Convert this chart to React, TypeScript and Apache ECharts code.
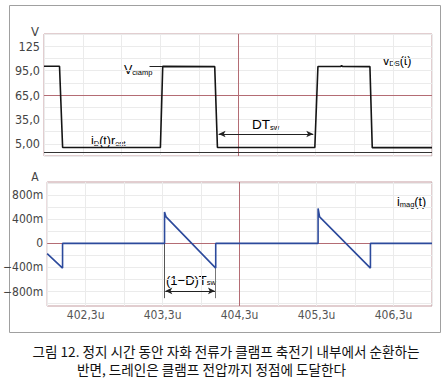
import React, { useEffect, useRef } from "react";
import * as echarts from "echarts";

// ---- data ----
const X0 = 401.8; // time offset (µs) used for the axis so gridlines fall on .3/.8
const Y0 = 5; // voltage offset so gridlines fall on 5, 20, 35 ...

const vdsTime = [401.8, 402.0, 402.04, 403.3, 403.33, 404.0, 404.035, 405.29, 405.33, 405.62, 405.635, 405.65, 406.0, 406.03, 406.8];
const vdsVolt = [100.3, 100.3, 0.4, 0.4, 100.2, 99.9, 0.4, 0.4, 100.1, 100.1, 100.9, 100.1, 99.9, 0.3, 0.3];

const imagTime = [401.8, 402.0, 402.0, 403.325, 403.325, 403.345, 403.99, 403.99, 405.32, 405.32, 405.34, 406.0, 406.0, 406.8];
const imagAmp = [-0.17, -0.41, 0, 0, 0.52, 0.44, -0.41, 0, 0, 0.58, 0.44, -0.41, 0, 0];

const xTickValues = [402.3, 403.3, 404.3, 405.3, 406.3];
const xTickLabels = ["402,3u", "403,3u", "404,3u", "405,3u", "406,3u"];
const vTickValues = [5, 35, 65, 95, 125];
const vTickLabels = ["5,00", "35,0", "65,0", "95,0", "125"];
const iTickValues = [-0.8, -0.4, 0, 0.4, 0.8];
const iTickLabels = ["−800m", "−400m", "0", "400m", "800m"];
const iGridValues = [-1.0, -0.8, -0.6, -0.4, -0.2, 0.2, 0.4, 0.6, 0.8, 1.0];

const captionLines = [
  "그림 12. 정지 시간 동안 자화 전류가 클램프 축전기 내부에서 순환하는",
  "반면, 드레인은 클램프 전압까지 정점에 도달한다",
];

const RED = "#b46c74";
const BORDER = "#c49ca0";
const GRID = "#ebebeb";
const FONT = "'Liberation Sans Narrow', 'DejaVu Sans Condensed', sans-serif";
const AFONT = "'Liberation Sans', sans-serif";

const fmt = (vals: number[], labels: string[], offset: number) => (v: number) => {
  const t = v + offset;
  const i = vals.findIndex((x) => Math.abs(x - t) < 1e-6);
  return i >= 0 ? labels[i] : "";
};

const rich = (big: number) => ({
  b: { fontSize: big, lineHeight: 15, fontFamily: AFONT, color: "#3a3a3a", verticalAlign: "bottom" as const },
  s: { fontSize: 7.5, lineHeight: 6, fontFamily: AFONT, color: "#3a3a3a", verticalAlign: "bottom" as const },
});

export default function App() {
  const ref = useRef<HTMLDivElement>(null);
  useEffect(() => {
    if (!ref.current) return;
    const chart = echarts.init(ref.current, undefined, { renderer: "svg" });

    const vdsData = vdsTime.map((t, i) => [t - X0, vdsVolt[i] - Y0]);
    const imagData = imagTime.map((t, i) => [t - X0, imagAmp[i]]);

    const xAxisCommon = {
      type: "value" as const,
      min: 0,
      max: 5,
      interval: 0.5,
      axisLine: { show: false },
      axisTick: { show: false },
      splitLine: { show: true, lineStyle: { color: GRID, width: 1 } },
    };

    const solid = (color: string, width = 1) => ({ color, width, type: "solid" as const });

    const option: any = {
      animation: false,
      grid: [
        { left: 44, top: 34, width: 388, height: 122, show: true, borderColor: BORDER, borderWidth: 1, backgroundColor: "transparent" },
        { left: 44, top: 182, width: 388, height: 124, show: true, borderColor: BORDER, borderWidth: 1, backgroundColor: "transparent" },
      ],
      xAxis: [
        { ...xAxisCommon, gridIndex: 0, axisLabel: { show: false } },
        {
          ...xAxisCommon,
          gridIndex: 1,
          axisLabel: { show: true, margin: 3, color: "#555", fontSize: 12, fontFamily: FONT, formatter: fmt(xTickValues, xTickLabels, X0) },
        },
      ],
      yAxis: [
        {
          type: "value",
          gridIndex: 0,
          min: -15,
          max: 135,
          interval: 15,
          axisLine: { show: false },
          axisTick: { show: false },
          splitLine: { show: true, lineStyle: { color: GRID, width: 1 } },
          axisLabel: { show: true, margin: 4, color: "#444", fontSize: 12.5, fontFamily: FONT, formatter: fmt(vTickValues, vTickLabels, Y0) },
        },
        {
          type: "value",
          gridIndex: 1,
          min: -1.04,
          max: 1.02,
          interval: 0.04,
          axisLine: { show: false },
          axisTick: { show: false },
          splitLine: { show: false },
          axisLabel: { show: true, hideOverlap: false, margin: 4, color: "#444", fontSize: 12, fontFamily: FONT, formatter: fmt(iTickValues, iTickLabels, 0) },
        },
      ],
      series: [
        {
          type: "line",
          xAxisIndex: 0,
          yAxisIndex: 0,
          data: vdsData,
          showSymbol: false,
          symbol: "none",
          lineStyle: { color: "#151515", width: 1.6 },
          z: 3,
          markLine: {
            silent: true,
            symbol: "none",
            label: { show: false },
            z: 2,
            data: [
              { xAxis: 404.3 - X0, lineStyle: solid(RED) },
              { yAxis: 65 - Y0, lineStyle: solid(RED) },
              { yAxis: -5 - Y0, lineStyle: solid("#333", 1.2) },
              [
                { coord: [403.16 - X0, 100.3 - Y0], lineStyle: solid("#222") },
                { coord: [403.32 - X0, 100.3 - Y0] },
              ],
              [
                { coord: [404.05 - X0, 17 - Y0], symbol: "arrow", symbolSize: [5, 7], lineStyle: solid("#222") },
                { coord: [405.27 - X0, 17 - Y0], symbol: "arrow", symbolSize: [5, 7] },
              ],
            ],
          },
        },
        {
          type: "line",
          xAxisIndex: 1,
          yAxisIndex: 1,
          data: imagData,
          showSymbol: false,
          symbol: "none",
          lineStyle: { color: "#2c4a9c", width: 1.6 },
          z: 3,
          markLine: {
            silent: true,
            symbol: "none",
            label: { show: false },
            z: 2,
            data: [
              ...iGridValues.map((v) => ({ yAxis: v, lineStyle: solid(GRID) })),
              { xAxis: 404.3 - X0, lineStyle: solid(RED) },
              { yAxis: 0, lineStyle: solid(RED) },
              [
                { coord: [403.325 - X0, 0], lineStyle: solid("#555") },
                { coord: [403.325 - X0, -0.91] },
              ],
              [
                { coord: [403.99 - X0, -0.41], lineStyle: solid("#777") },
                { coord: [403.99 - X0, -0.91] },
              ],
              [
                { coord: [403.335 - X0, -0.79], symbol: "arrow", symbolSize: [5, 7], lineStyle: solid("#222") },
                { coord: [403.98 - X0, -0.79], symbol: "arrow", symbolSize: [5, 7] },
              ],
            ],
          },
        },
      ],
      graphic: [
        { type: "rect", shape: { x: 9.5, y: 5.5, width: 431, height: 327 }, style: { fill: "none", stroke: "#a0a0a0", lineWidth: 1 }, z: 0, silent: true },
        { type: "text", x: 35, y: 31, style: { text: "V", fontSize: 13, fontFamily: FONT, fill: "#444", align: "center", verticalAlign: "middle" } },
        { type: "text", x: 35, y: 177, style: { text: "A", fontSize: 12, fontFamily: FONT, fill: "#444", align: "center", verticalAlign: "middle" } },
        { type: "text", x: 124, y: 69, style: { text: "{b|V}{s|clamp}", rich: rich(12.5), align: "left", verticalAlign: "middle" } },
        { type: "text", x: 383, y: 60, style: { text: "{b|v}{s|DS}{b|(t)}", rich: rich(12.5), align: "left", verticalAlign: "middle" } },
        { type: "text", x: 91, y: 140, style: { text: "{b|i}{s|D}{b|(t)r}{s|ont}", rich: rich(12.5), align: "left", verticalAlign: "middle" } },
        { type: "text", x: 252, y: 124, style: { text: "{b|DT}{s|sw}", rich: rich(13.5), align: "left", verticalAlign: "middle" } },
        { type: "text", x: 397, y: 201, style: { text: "{b|i}{s|mag}{b|(t)}", rich: rich(12.5), align: "left", verticalAlign: "middle" } },
        { type: "text", x: 166, y: 279, style: { text: "{b|(1−D)T}{s|sw}", rich: rich(13), align: "left", verticalAlign: "middle" } },
        {
          type: "text", x: 226, y: 350.5,
          style: { text: captionLines[0], fontSize: 13.6, lineHeight: 15, fontWeight: "normal", fontFamily: "'Noto Sans CJK KR', sans-serif", fill: "#111", align: "center", verticalAlign: "middle" },
        },
        {
          type: "text", x: 211.5, y: 368.5,
          style: { text: captionLines[1], fontSize: 13.6, lineHeight: 15, fontWeight: "normal", fontFamily: "'Noto Sans CJK KR', sans-serif", fill: "#111", align: "center", verticalAlign: "middle" },
        },
      ],
    };

    chart.setOption(option);
    return () => chart.dispose();
  }, []);

  return <div ref={ref} style={{ position: "fixed", left: 0, top: 0, width: 447, height: 389, background: "#fff" }} />;
}
